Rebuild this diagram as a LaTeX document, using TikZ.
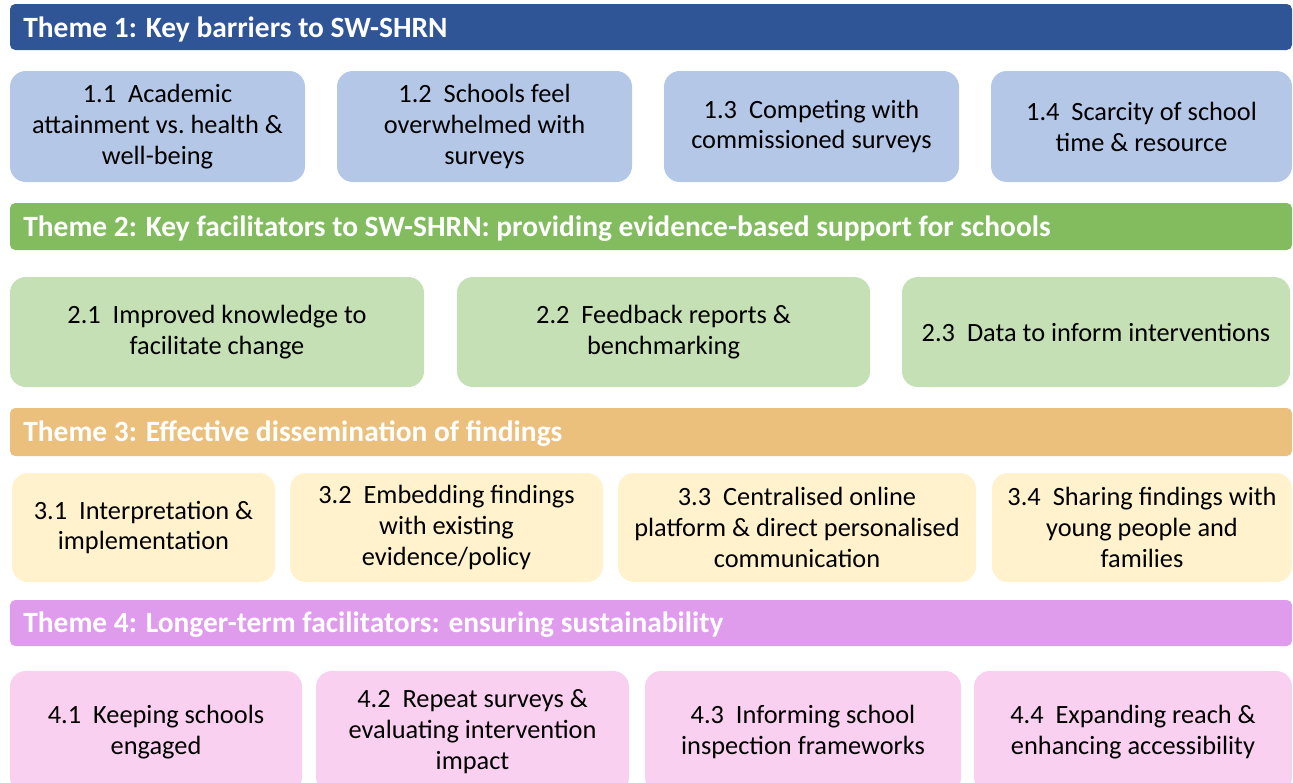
\documentclass[tikz,border=0pt]{standalone}
\usepackage{fontspec}
\setmainfont{Carlito}
\usepackage{tikz}

\definecolor{themeA}{HTML}{2F5597}
\definecolor{boxA}{HTML}{B4C7E7}
\definecolor{themeB}{HTML}{82BC5F}
\definecolor{boxB}{HTML}{C5E0B4}
\definecolor{themeC}{HTML}{EBC07C}
\definecolor{boxC}{HTML}{FFF2CC}
\definecolor{themeD}{HTML}{DF9BEC}
\definecolor{boxD}{HTML}{F9D0F0}

\begin{document}
\begin{tikzpicture}[x=0.02cm, y=-0.02cm,
      theme/.style={rounded corners=3pt, text=white, anchor=west,
        inner sep=0pt, font=\fontsize{16.75}{20}\selectfont\bfseries},
      subtheme/.style={rounded corners=9pt, align=center, inner sep=0pt,
        font=\fontsize{15}{17.6}\selectfont}]
      \clip (0,0) rectangle (1293,782);

      % theme bars
      \foreach \ya/\yb/\col/\al/\lab in {%
        4/50/themeA/themeone/{Theme 1: Key barriers to SW-SHRN},%
        203/250/themeB/themetwo/{Theme 2: Key facilitators to SW-SHRN: providing evidence-based support for schools},%
        408/456/themeC/themethree/{Theme 3: Effective dissemination of findings},%
        600/646/themeD/themefour/{Theme 4: Longer-term facilitators: ensuring sustainability}%
      }{ \fill[\col, rounded corners=3pt] (10,\ya) rectangle (1292,\yb);
         \node[theme] (\al) at (23,{(\ya+\yb)/2+2}) {\lab}; }

      % sub-theme boxes
      \foreach \xa/\xb/\ya/\yb/\col/\al/\lab in {%
        10/305/70/181/boxA/sa/{1.1\ \ Academic\\attainment vs.\ health \&\\well-being},%
        337/632/70/181/boxA/sb/{1.2\ \ Schools feel\\overwhelmed with\\surveys},%
        664/959/70/181/boxA/sc/{1.3\ \ Competing with\\commissioned surveys},%
        991/1292/70/181/boxA/sd/{1.4\ \ Scarcity of school\\time \& resource},%
        10/424/276/386/boxB/fa/{2.1\ \ Improved knowledge to\\facilitate change},%
        457/870/276/386/boxB/fb/{2.2\ \ Feedback reports \&\\benchmarking},%
        902/1290/276/386/boxB/fc/{2.3\ \ Data to inform interventions},%
        12/275/472/581/boxC/da/{3.1\ \ Interpretation \&\\implementation},%
        290/603/472/581/boxC/db/{3.2\ \ Embedding findings\\with existing\\evidence/policy},%
        618/976/472/581/boxC/dc/{3.3\ \ Centralised online\\platform \& direct personalised\\communication},%
        992/1292/472/581/boxC/dd/{3.4\ \ Sharing findings with\\young people and\\families},%
        10/302/670/792/boxD/la/{4.1\ \ Keeping schools\\engaged},%
        316/629/670/792/boxD/lb/{4.2\ \ Repeat surveys \&\\evaluating intervention\\impact},%
        645/961/670/792/boxD/lc/{4.3\ \ Informing school\\inspection frameworks},%
        974/1292/670/792/boxD/ld/{4.4\ \ Expanding reach \&\\enhancing accessibility}%
      }{ \node[subtheme, fill=\col, minimum width={(\xb-\xa)*0.02cm},
           minimum height={(\yb-\ya)*0.02cm}] (\al)
           at ({(\xa+\xb)/2},{(\ya+\yb)/2+1}) {\lab}; }
    \end{tikzpicture}
\end{document}
